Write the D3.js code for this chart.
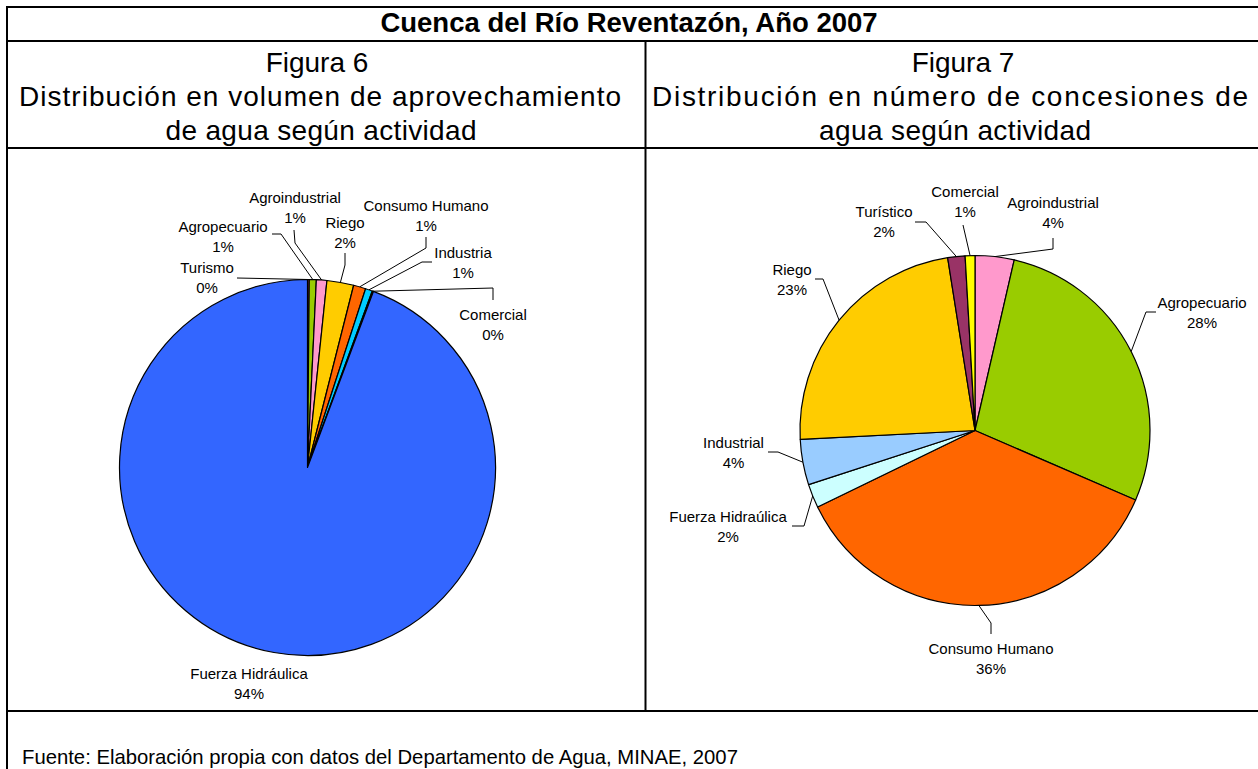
<!DOCTYPE html>
<html><head><meta charset="utf-8">
<script src="https://cdn.jsdelivr.net/npm/d3@7"></script>
<style>body{margin:0;background:#fff}svg{display:block}text{font-family:"Liberation Sans",Arial,sans-serif;fill:#000}</style>
</head><body><svg id="c" width="1258" height="769"></svg>
<script>
const title = "Cuenca del Río Reventazón, Año 2007";
const leftHeader = ["Figura 6", "Distribución en volumen de aprovechamiento", "de agua según actividad"];
const rightHeader = ["Figura 7", "Distribución en número de concesiones de", "agua según actividad"];
const source = "Fuente: Elaboración propia con datos del Departamento de Agua, MINAE, 2007";

const leftCategories = ["Turismo", "Agropecuario", "Agroindustrial", "Riego", "Consumo Humano", "Industria", "Comercial", "Fuerza Hidráulica"];
const leftValues = [0.15, 0.6, 0.9, 2.3, 1.05, 0.6, 0.1, 94.3];
const leftColors = ["#993366", "#99CC00", "#FF99CC", "#FFCC00", "#FF6600", "#00CCFF", "#FFFF00", "#3366FF"];

const rightCategories = ["Agroindustrial", "Agropecuario", "Consumo Humano", "Fuerza Hidraúlica", "Industrial", "Riego", "Turístico", "Comercial"];
const rightValues = [3.6, 27.9, 36.3, 2.2, 4.2, 23.3, 1.6, 0.9];
const rightColors = ["#FF99CC", "#99CC00", "#FF6600", "#CCFFFF", "#99CCFF", "#FFCC00", "#993366", "#FFFF00"];

// label layout (offsets from pie centre): text centre + leader elbow points
const leftLayout = [
  {t: [-100.5, -199.5], e: [[-70.5, -189.5]]},
  {t: [-84.5, -240.5], e: [[-35.5, -233.5], [-26.5, -233.5]]},
  {t: [-12.5, -269.5], e: [[-13.5, -237.5], [-12.5, -224.5]]},
  {t: [37.5, -244.5], e: [[37.5, -214.5], [37.5, -202.5]]},
  {t: [118.5, -261.5], e: [[118.5, -230.5], [118.5, -219.5]]},
  {t: [155.5, -214.5], e: [[124.5, -205.5], [114.5, -205.5]]},
  {t: [185.5, -152.5], e: [[185.5, -167.5], [185.5, -179.5]]},
  {t: [-58.5, 206.5], e: null}
];
const rightLayout = [
  {t: [78, -227.5], e: [[78, -192.5], [78, -181.5]]},
  {t: [227, -127.5], e: [[181, -118.5], [171, -118.5]]},
  {t: [16, 218.5], e: [[16, 203.5], [16, 192.5]]},
  {t: [-247, 86.5], e: [[-183, 95.5], [-171, 95.5]]},
  {t: [-241.5, 12.5], e: [[-207, 21.5], [-197, 21.5]]},
  {t: [-183, -160.5], e: [[-160, -151.5], [-152, -151.5]]},
  {t: [-91, -218.5], e: [[-60, -208.5], [-49, -208.5]]},
  {t: [-10, -238.5], e: [[-12, -205.5]]}
];

const svg = d3.select("#c");
svg.append("rect").attr("width", 1258).attr("height", 769).attr("fill", "#fff");

// table
const g = svg.append("g").attr("stroke", "#000").attr("stroke-width", 2);
[[6, 7, 1260, 7], [7, 6, 7, 770], [6, 41, 1260, 41], [6, 148, 1260, 148], [6, 711, 1260, 711], [645.5, 41, 645.5, 711]]
  .forEach(l => g.append("line").attr("x1", l[0]).attr("y1", l[1]).attr("x2", l[2]).attr("y2", l[3]));

svg.append("text").attr("x", 629).attr("y", 32).attr("text-anchor", "middle")
  .attr("font-size", 27.5).attr("font-weight", "bold").text(title);

// header cell lines: [centre x, rendered width]
function header(lines, spec) {
  const hy = [72, 106, 140];
  lines.forEach((s, i) => {
    const t = svg.append("text").attr("x", spec[i][0]).attr("y", hy[i])
      .attr("text-anchor", "middle").attr("font-size", 28).text(s);
    const len = t.node().getComputedTextLength();
    if (spec[i][1] > len) t.attr("textLength", spec[i][1]).attr("lengthAdjust", "spacing");
  });
}
header(leftHeader, [[317, 102], [320, 602], [321, 311]]);
header(rightHeader, [[963, 102], [950, 596], [955, 272]]);

svg.append("text").attr("x", 22).attr("y", 764).attr("font-size", 20.3).text(source);

function drawPie(cx, cy, r, cats, vals, colors, layout) {
  const total = d3.sum(vals);
  const pie = d3.pie().sort(null).value(d => d.v).startAngle(0).endAngle(2 * Math.PI);
  const arcs = pie(cats.map((c, i) => ({c, v: vals[i], col: colors[i], lay: layout[i]})));
  const arc = d3.arc().innerRadius(0).outerRadius(r);
  const pg = svg.append("g").attr("transform", `translate(${cx},${cy})`);
  pg.selectAll("path").data(arcs).join("path")
    .attr("d", arc).attr("fill", d => d.data.col)
    .attr("stroke", "#000").attr("stroke-width", 1.2).attr("stroke-linejoin", "round");
  const line = d3.line();
  arcs.forEach(d => {
    const L = d.data.lay;
    const pct = Math.round(d.data.v / total * 100) + "%";
    if (L.e) {
      const a = (d.startAngle + d.endAngle) / 2;
      const end = [r * Math.sin(a), -r * Math.cos(a)];
      pg.append("path").attr("d", line(L.e.concat([end])))
        .attr("fill", "none").attr("stroke", "#000").attr("stroke-width", 1);
    }
    const t = pg.append("text").attr("text-anchor", "middle").attr("font-size", 15);
    t.append("tspan").attr("x", L.t[0]).attr("y", L.t[1] + 5.4).text(d.data.c);
    t.append("tspan").attr("x", L.t[0]).attr("y", L.t[1] + 5.4 + 19.5).text(pct);
  });
}
drawPie(307.5, 467.5, 188, leftCategories, leftValues, leftColors, leftLayout);
drawPie(975, 430.5, 175, rightCategories, rightValues, rightColors, rightLayout);
</script></body></html>
